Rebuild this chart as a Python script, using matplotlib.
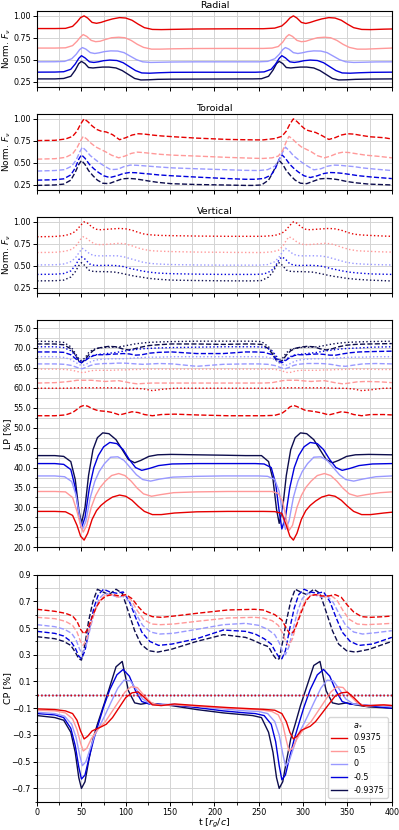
import numpy as np
import matplotlib.pyplot as plt
from matplotlib.ticker import MultipleLocator, FormatStrFormatter
from matplotlib.lines import Line2D

# spin values and their colours
spins = ["0.9375", "0.5", "0", "-0.5", "-0.9375"]
colors = ["#e60000", "#ff9999", "#9999ff", "#0000dd", "#0d0d4d"]

# ---- a = 0.9375 -------------------------------------------------------
t_a09 = [0, 20, 32, 40, 45, 49, 53, 57, 62, 67, 72, 78, 85, 93, 100, 107, 114, 121, 130, 140, 155, 180, 215, 245,
         255, 268, 276, 281, 285, 289, 293, 298, 303, 308, 314, 321, 329, 336, 343, 350, 357, 366, 376, 391, 400]
fr_a09 = [0.855, 0.855, 0.857, 0.88, 0.93, 0.98, 1.00, 0.975, 0.925, 0.915, 0.925, 0.945, 0.965, 0.98, 0.975, 0.95, 0.905, 0.865, 0.845, 0.843, 0.846, 0.85, 0.852, 0.853,
          0.853, 0.86, 0.885, 0.93, 0.975, 1.00, 0.975, 0.925, 0.913, 0.925, 0.945, 0.965, 0.98, 0.975, 0.95, 0.905, 0.865, 0.845, 0.843, 0.848, 0.85]
ft_a09 = [0.752, 0.755, 0.77, 0.8, 0.86, 0.94, 1.00, 0.97, 0.92, 0.88, 0.86, 0.85, 0.82, 0.762, 0.785, 0.815, 0.83, 0.826, 0.815, 0.805, 0.795, 0.78, 0.765, 0.76,
          0.76, 0.775, 0.8, 0.86, 0.94, 1.00, 0.97, 0.92, 0.875, 0.86, 0.845, 0.81, 0.765, 0.785, 0.815, 0.83, 0.826, 0.81, 0.795, 0.785, 0.77]
fv_a09 = [0.83, 0.833, 0.845, 0.87, 0.91, 0.96, 1.00, 0.985, 0.94, 0.915, 0.91, 0.915, 0.92, 0.925, 0.92, 0.905, 0.88, 0.86, 0.85, 0.845, 0.842, 0.838, 0.835, 0.835,
          0.835, 0.845, 0.87, 0.91, 0.96, 1.00, 0.985, 0.94, 0.915, 0.91, 0.915, 0.92, 0.925, 0.92, 0.905, 0.88, 0.86, 0.85, 0.845, 0.838, 0.835]
lpr_a09 = [29.0, 29.0, 28.9, 28.0, 25.5, 22.8, 21.8, 23.5, 27.0, 29.2, 30.5, 31.6, 32.6, 33.1, 32.8, 31.8, 30.3, 29.0, 28.2, 28.2, 28.6, 28.9, 29.0, 29.0,
           29.0, 28.95, 28.5, 25.5, 22.8, 21.8, 23.5, 27.0, 29.2, 30.5, 31.6, 32.6, 33.1, 32.8, 31.8, 30.3, 29.0, 28.2, 28.2, 28.6, 28.8]
lpt_a09 = [53.0, 53.0, 53.2, 53.8, 54.6, 55.3, 55.6, 55.4, 54.8, 54.4, 54.2, 54.1, 53.8, 53.2, 53.6, 54.0, 53.8, 53.3, 53.0, 53.3, 53.4, 53.2, 53.0, 53.0,
           53.0, 53.1, 53.6, 54.4, 55.2, 55.6, 55.3, 54.8, 54.3, 54.2, 54.0, 53.7, 53.2, 53.6, 54.0, 53.8, 53.3, 53.0, 53.3, 53.3, 53.2]
lpv_a09 = [59.9, 59.9, 59.9, 59.95, 60.0, 60.0, 60.0, 60.0, 60.0, 60.0, 60.0, 60.0, 60.0, 59.95, 59.9, 59.9, 59.85, 59.7, 59.3, 59.6, 59.9, 59.9, 59.9, 59.9,
           59.9, 59.9, 59.95, 60.0, 60.0, 60.0, 60.0, 60.0, 60.0, 60.0, 60.0, 60.0, 59.95, 59.9, 59.9, 59.85, 59.7, 59.3, 59.5, 59.9, 59.9]
cpr_a09 = [-0.105, -0.11, -0.12, -0.14, -0.19, -0.27, -0.33, -0.31, -0.27, -0.255, -0.24, -0.22, -0.17, -0.09, -0.02, 0.015, 0.022, -0.02, -0.075, -0.08, -0.068, -0.08, -0.095, -0.105,
           -0.108, -0.115, -0.14, -0.2, -0.28, -0.33, -0.31, -0.265, -0.25, -0.235, -0.2, -0.14, -0.07, -0.01, 0.015, 0.02, -0.02, -0.08, -0.08, -0.075, -0.08]
cpt_a09 = [0.64, 0.625, 0.61, 0.59, 0.55, 0.49, 0.455, 0.49, 0.58, 0.66, 0.71, 0.74, 0.75, 0.74, 0.75, 0.72, 0.66, 0.61, 0.585, 0.58, 0.59, 0.61, 0.635, 0.64,
           0.635, 0.6, 0.56, 0.5, 0.455, 0.47, 0.53, 0.62, 0.7, 0.74, 0.75, 0.74, 0.74, 0.75, 0.73, 0.67, 0.62, 0.585, 0.58, 0.585, 0.59]

# ---- a = 0.5 ----------------------------------------------------------
t_a05 = [0, 20, 32, 40, 45, 49, 52, 56, 61, 66, 71, 77, 84, 92, 99, 106, 113, 120, 129, 139, 154, 180, 215, 245,
         255, 265, 272, 277, 281, 284, 288, 293, 298, 303, 309, 316, 324, 331, 338, 345, 352, 361, 371, 387, 400]
fr_a05 = [0.632, 0.632, 0.635, 0.66, 0.71, 0.76, 0.786, 0.765, 0.72, 0.705, 0.71, 0.73, 0.75, 0.756, 0.75, 0.72, 0.675, 0.64, 0.62, 0.62, 0.624, 0.627, 0.628, 0.628,
          0.628, 0.632, 0.65, 0.7, 0.76, 0.786, 0.765, 0.72, 0.705, 0.71, 0.73, 0.75, 0.756, 0.75, 0.72, 0.675, 0.64, 0.62, 0.62, 0.627, 0.632]
ft_a05 = [0.54, 0.545, 0.56, 0.6, 0.67, 0.75, 0.80, 0.77, 0.72, 0.68, 0.655, 0.625, 0.585, 0.555, 0.575, 0.605, 0.62, 0.615, 0.605, 0.595, 0.585, 0.575, 0.56, 0.55,
          0.548, 0.555, 0.575, 0.64, 0.74, 0.80, 0.77, 0.72, 0.68, 0.655, 0.625, 0.58, 0.555, 0.575, 0.605, 0.62, 0.615, 0.6, 0.585, 0.57, 0.555]
fv_a05 = [0.65, 0.652, 0.665, 0.69, 0.74, 0.8, 0.83, 0.81, 0.77, 0.745, 0.74, 0.742, 0.748, 0.755, 0.75, 0.73, 0.705, 0.685, 0.67, 0.665, 0.66, 0.655, 0.652, 0.65,
          0.65, 0.658, 0.675, 0.72, 0.79, 0.83, 0.81, 0.77, 0.745, 0.74, 0.742, 0.748, 0.755, 0.75, 0.73, 0.705, 0.685, 0.67, 0.665, 0.658, 0.655]
lpr_a05 = [34.0, 34.0, 33.9, 32.5, 29.0, 25.5, 23.8, 25.5, 30.0, 33.0, 35.0, 36.6, 38.0, 38.5, 38.0, 36.6, 34.8, 33.4, 32.8, 33.2, 33.7, 33.9, 34.0, 34.0,
           34.0, 34.0, 33.5, 31.5, 27.0, 24.2, 25.5, 30.0, 33.0, 35.0, 36.6, 38.0, 38.5, 38.0, 36.6, 34.8, 33.4, 32.8, 33.2, 33.7, 33.9]
lpt_a05 = [61.2, 61.3, 61.5, 61.7, 61.9, 61.9, 61.9, 61.9, 61.9, 61.8, 61.7, 61.6, 61.7, 61.8, 61.5, 61.2, 61.0, 61.1, 61.2, 61.2, 61.2, 61.2, 61.2, 61.2,
           61.2, 61.3, 61.6, 61.8, 61.9, 61.9, 61.9, 61.9, 61.8, 61.7, 61.6, 61.7, 61.8, 61.5, 61.2, 61.0, 61.2, 61.5, 61.6, 61.5, 61.3]
lpv_a05 = [64.7, 64.7, 64.6, 64.4, 64.1, 63.9, 63.8, 64.0, 64.3, 64.4, 64.4, 64.4, 64.4, 64.5, 64.5, 64.6, 64.6, 64.7, 64.7, 64.7, 64.7, 64.7, 64.7, 64.7,
           64.7, 64.7, 64.5, 64.2, 63.9, 63.8, 64.0, 64.3, 64.4, 64.4, 64.4, 64.4, 64.5, 64.5, 64.6, 64.6, 64.7, 64.7, 64.7, 64.6, 64.6]
cpr_a05 = [-0.115, -0.12, -0.135, -0.18, -0.26, -0.36, -0.42, -0.40, -0.33, -0.28, -0.24, -0.2, -0.13, -0.05, 0.02, 0.06, 0.055, 0.0, -0.06, -0.08, -0.075, -0.085, -0.1, -0.11,
           -0.115, -0.125, -0.15, -0.22, -0.34, -0.42, -0.40, -0.33, -0.28, -0.24, -0.2, -0.13, -0.05, 0.02, 0.06, 0.055, 0.0, -0.06, -0.085, -0.075, -0.08]
cpt_a05 = [0.58, 0.57, 0.55, 0.52, 0.47, 0.40, 0.37, 0.42, 0.54, 0.64, 0.71, 0.745, 0.75, 0.73, 0.745, 0.71, 0.63, 0.565, 0.53, 0.525, 0.53, 0.55, 0.575, 0.58,
           0.575, 0.555, 0.52, 0.46, 0.39, 0.37, 0.42, 0.54, 0.64, 0.71, 0.745, 0.75, 0.73, 0.745, 0.71, 0.63, 0.565, 0.53, 0.525, 0.53, 0.535]

# ---- a = 0 ------------------------------------------------------------
t_a0 = [0, 20, 31, 39, 44, 48, 51, 55, 60, 65, 70, 76, 83, 91, 98, 105, 112, 119, 128, 138, 153, 180, 210, 235,
        250, 260, 268, 273, 277, 280, 284, 289, 294, 299, 305, 312, 320, 327, 334, 341, 348, 357, 367, 382, 400]
fr_a0 = [0.475, 0.476, 0.48, 0.51, 0.56, 0.615, 0.638, 0.62, 0.58, 0.57, 0.578, 0.592, 0.60, 0.598, 0.58, 0.54, 0.5, 0.475, 0.468, 0.47, 0.473, 0.475, 0.475, 0.475,
         0.475, 0.48, 0.51, 0.56, 0.615, 0.638, 0.62, 0.58, 0.57, 0.578, 0.592, 0.60, 0.598, 0.58, 0.54, 0.5, 0.475, 0.468, 0.47, 0.474, 0.475]
ft_a0 = [0.404, 0.41, 0.42, 0.46, 0.53, 0.62, 0.677, 0.64, 0.58, 0.54, 0.5, 0.46, 0.42, 0.425, 0.455, 0.472, 0.47, 0.465, 0.458, 0.45, 0.44, 0.43, 0.42, 0.412,
         0.41, 0.42, 0.46, 0.53, 0.62, 0.677, 0.64, 0.58, 0.54, 0.5, 0.46, 0.418, 0.43, 0.458, 0.472, 0.47, 0.463, 0.455, 0.44, 0.425, 0.41]
fv_a0 = [0.508, 0.51, 0.52, 0.55, 0.6, 0.66, 0.697, 0.67, 0.63, 0.615, 0.612, 0.612, 0.613, 0.612, 0.6, 0.58, 0.56, 0.54, 0.525, 0.518, 0.512, 0.508, 0.506, 0.506,
         0.506, 0.512, 0.545, 0.6, 0.66, 0.697, 0.67, 0.63, 0.615, 0.612, 0.612, 0.613, 0.61, 0.6, 0.58, 0.56, 0.54, 0.525, 0.518, 0.512, 0.508]
lpr_a0 = [37.9, 37.9, 37.7, 36.5, 33.0, 27.5, 24.4, 26.5, 32.5, 36.5, 39.0, 41.0, 42.6, 42.7, 41.8, 40.0, 38.2, 37.0, 36.6, 37.1, 37.6, 37.8, 37.9, 37.9,
          37.9, 37.8, 37.0, 34.0, 28.0, 24.5, 26.5, 32.5, 36.5, 39.0, 41.0, 42.6, 42.7, 41.8, 40.0, 38.2, 37.0, 36.6, 37.1, 37.7, 37.9]
lpt_a0 = [66.0, 66.0, 65.9, 65.6, 65.2, 64.9, 64.8, 65.1, 65.6, 65.9, 66.0, 66.1, 66.1, 66.2, 66.2, 66.1, 66.0, 65.9, 66.0, 66.1, 66.0, 65.4, 65.9, 66.0,
          66.0, 65.9, 65.6, 65.2, 64.9, 64.8, 65.1, 65.6, 65.9, 66.0, 66.1, 66.1, 66.1, 66.0, 65.8, 65.5, 65.4, 65.7, 66.0, 66.1, 66.0]
lpv_a0 = [67.8, 67.8, 67.6, 67.0, 66.3, 65.8, 65.6, 65.9, 66.5, 66.9, 67.1, 67.2, 67.3, 67.3, 67.3, 67.4, 67.5, 67.6, 67.7, 67.7, 67.8, 67.8, 67.8, 67.8,
          67.8, 67.7, 67.1, 66.3, 65.8, 65.6, 65.9, 66.5, 66.9, 67.1, 67.2, 67.3, 67.3, 67.3, 67.4, 67.5, 67.6, 67.7, 67.7, 67.8, 67.8]
cpr_a0 = [-0.13, -0.14, -0.16, -0.22, -0.32, -0.45, -0.53, -0.5, -0.4, -0.3, -0.24, -0.16, -0.06, 0.05, 0.11, 0.105, 0.04, -0.03, -0.07, -0.075, -0.07, -0.085, -0.105, -0.12,
          -0.125, -0.14, -0.2, -0.3, -0.44, -0.53, -0.5, -0.4, -0.3, -0.24, -0.16, -0.06, 0.05, 0.11, 0.105, 0.04, -0.03, -0.07, -0.075, -0.08, -0.09]
cpt_a0 = [0.525, 0.51, 0.49, 0.46, 0.41, 0.34, 0.31, 0.36, 0.5, 0.63, 0.72, 0.76, 0.75, 0.73, 0.74, 0.69, 0.6, 0.52, 0.47, 0.455, 0.46, 0.49, 0.525, 0.535,
          0.52, 0.49, 0.45, 0.39, 0.32, 0.30, 0.36, 0.5, 0.63, 0.72, 0.76, 0.75, 0.73, 0.74, 0.69, 0.6, 0.52, 0.47, 0.455, 0.465, 0.48]

# ---- a = -0.5 ---------------------------------------------------------
t_am05 = [0, 20, 30, 38, 43, 47, 50, 54, 59, 64, 69, 75, 82, 90, 97, 104, 111, 118, 127, 137, 152, 180, 210, 235,
          246, 256, 264, 269, 273, 276, 280, 285, 290, 295, 301, 308, 316, 323, 330, 337, 344, 353, 363, 378, 400]
fr_am05 = [0.357, 0.358, 0.362, 0.39, 0.45, 0.515, 0.545, 0.52, 0.475, 0.468, 0.475, 0.488, 0.495, 0.49, 0.465, 0.42, 0.375, 0.348, 0.345, 0.35, 0.355, 0.356, 0.356, 0.356,
           0.356, 0.36, 0.39, 0.45, 0.515, 0.545, 0.52, 0.475, 0.468, 0.475, 0.488, 0.495, 0.49, 0.465, 0.42, 0.375, 0.348, 0.345, 0.35, 0.355, 0.357]
ft_am05 = [0.30, 0.305, 0.315, 0.36, 0.44, 0.54, 0.59, 0.55, 0.48, 0.43, 0.39, 0.35, 0.33, 0.35, 0.375, 0.387, 0.385, 0.378, 0.37, 0.36, 0.35, 0.335, 0.32, 0.31,
           0.31, 0.32, 0.36, 0.44, 0.54, 0.59, 0.55, 0.48, 0.43, 0.39, 0.35, 0.33, 0.35, 0.375, 0.387, 0.385, 0.378, 0.365, 0.35, 0.335, 0.318]
fv_am05 = [0.40, 0.402, 0.41, 0.44, 0.5, 0.57, 0.60, 0.575, 0.52, 0.505, 0.502, 0.503, 0.504, 0.5, 0.49, 0.47, 0.455, 0.44, 0.425, 0.415, 0.408, 0.403, 0.4, 0.4,
           0.4, 0.405, 0.44, 0.5, 0.57, 0.60, 0.575, 0.52, 0.505, 0.502, 0.503, 0.504, 0.5, 0.49, 0.47, 0.455, 0.44, 0.425, 0.415, 0.405, 0.40]
lpr_am05 = [41.0, 41.0, 40.8, 39.5, 35.0, 28.5, 24.8, 27.5, 35.0, 40.0, 43.0, 45.2, 46.3, 46.0, 44.5, 42.0, 40.0, 39.3, 39.8, 40.5, 40.9, 41.0, 41.0, 41.0,
            41.0, 40.9, 40.0, 36.0, 29.0, 24.6, 27.5, 35.0, 40.0, 43.0, 45.2, 46.3, 46.0, 44.5, 42.0, 40.0, 39.3, 39.8, 40.5, 40.9, 41.0]
lpt_am05 = [69.0, 69.0, 68.9, 68.3, 67.4, 66.6, 66.3, 66.8, 67.6, 68.1, 68.3, 68.3, 68.4, 68.5, 68.6, 68.5, 68.2, 68.3, 68.7, 68.9, 69.0, 68.6, 68.6, 69.0,
            69.0, 68.9, 68.4, 67.4, 66.6, 66.3, 66.8, 67.6, 68.1, 68.3, 68.3, 68.4, 68.5, 68.4, 68.2, 68.2, 68.5, 68.8, 69.0, 69.1, 69.2]
lpv_am05 = [70.3, 70.3, 70.1, 69.3, 68.2, 67.0, 66.5, 67.0, 67.8, 68.2, 68.4, 68.5, 68.7, 68.9, 69.2, 69.4, 69.6, 69.8, 69.9, 70.0, 70.1, 70.2, 70.3, 70.3,
            70.3, 70.2, 69.5, 68.2, 67.0, 66.5, 67.0, 67.8, 68.2, 68.4, 68.5, 68.7, 68.9, 69.2, 69.4, 69.6, 69.8, 69.9, 70.0, 70.2, 70.3]
cpr_am05 = [-0.14, -0.15, -0.17, -0.25, -0.38, -0.54, -0.63, -0.6, -0.46, -0.33, -0.22, -0.09, 0.04, 0.15, 0.19, 0.14, 0.03, -0.05, -0.07, -0.07, -0.075, -0.095, -0.12, -0.135,
            -0.14, -0.155, -0.22, -0.35, -0.53, -0.635, -0.6, -0.46, -0.33, -0.22, -0.09, 0.04, 0.15, 0.19, 0.14, 0.03, -0.05, -0.07, -0.07, -0.085, -0.1]
cpt_am05 = [0.475, 0.46, 0.44, 0.40, 0.35, 0.29, 0.27, 0.33, 0.5, 0.65, 0.75, 0.79, 0.77, 0.76, 0.77, 0.7, 0.58, 0.47, 0.4, 0.37, 0.38, 0.42, 0.485, 0.475,
            0.455, 0.42, 0.38, 0.32, 0.28, 0.27, 0.33, 0.5, 0.65, 0.75, 0.79, 0.77, 0.76, 0.77, 0.7, 0.58, 0.47, 0.4, 0.37, 0.38, 0.43]

# ---- a = -0.9375 ------------------------------------------------------
t_am09 = [0, 20, 30, 38, 43, 47, 50, 54, 58, 63, 68, 74, 81, 89, 96, 103, 110, 117, 126, 136, 151, 180, 210, 235,
          243, 253, 261, 266, 270, 273, 277, 281, 286, 291, 297, 304, 312, 319, 326, 333, 340, 349, 359, 374, 400]
fr_am09 = [0.28, 0.28, 0.285, 0.31, 0.38, 0.455, 0.48, 0.455, 0.41, 0.405, 0.41, 0.415, 0.415, 0.405, 0.375, 0.33, 0.285, 0.268, 0.27, 0.275, 0.277, 0.278, 0.279, 0.28,
           0.28, 0.282, 0.31, 0.38, 0.455, 0.48, 0.455, 0.41, 0.405, 0.41, 0.415, 0.415, 0.405, 0.375, 0.33, 0.285, 0.268, 0.27, 0.275, 0.278, 0.28]
ft_am09 = [0.24, 0.245, 0.255, 0.3, 0.39, 0.48, 0.525, 0.48, 0.41, 0.35, 0.3, 0.265, 0.26, 0.29, 0.315, 0.32, 0.315, 0.305, 0.29, 0.275, 0.26, 0.25, 0.245, 0.24,
           0.24, 0.245, 0.3, 0.39, 0.48, 0.525, 0.48, 0.41, 0.35, 0.3, 0.265, 0.26, 0.29, 0.315, 0.32, 0.315, 0.305, 0.285, 0.27, 0.255, 0.245]
fv_am09 = [0.326, 0.328, 0.335, 0.37, 0.43, 0.5, 0.534, 0.5, 0.45, 0.435, 0.432, 0.432, 0.43, 0.425, 0.41, 0.395, 0.38, 0.37, 0.355, 0.345, 0.335, 0.33, 0.327, 0.326,
           0.326, 0.33, 0.37, 0.43, 0.5, 0.534, 0.5, 0.45, 0.435, 0.432, 0.432, 0.43, 0.425, 0.41, 0.395, 0.38, 0.37, 0.355, 0.345, 0.335, 0.325]
lpr_am09 = [43.0, 43.0, 42.8, 41.5, 37.0, 29.5, 26.0, 30.0, 38.0, 44.5, 47.5, 48.7, 48.5, 47.0, 44.5, 42.0, 41.2, 41.8, 42.8, 43.2, 43.3, 43.2, 43.1, 43.0,
            43.0, 43.0, 41.5, 37.0, 29.5, 26.0, 30.0, 38.0, 44.5, 47.5, 48.7, 48.5, 47.0, 44.5, 42.0, 41.2, 41.8, 42.8, 43.2, 43.3, 43.2]
lpt_am09 = [71.0, 71.0, 70.8, 69.8, 68.3, 66.8, 66.3, 67.0, 68.2, 69.3, 69.9, 70.2, 70.4, 70.3, 69.8, 69.5, 69.8, 70.2, 70.6, 70.8, 71.0, 71.0, 70.9, 71.0,
            71.0, 70.9, 69.8, 68.3, 66.8, 66.3, 67.0, 68.2, 69.3, 69.9, 70.2, 70.4, 70.3, 69.8, 69.5, 69.8, 70.3, 70.7, 70.9, 71.0, 71.1]
lpv_am09 = [71.7, 71.6, 71.4, 70.3, 68.7, 67.3, 66.8, 67.5, 68.8, 69.6, 69.9, 70.1, 70.2, 70.2, 70.4, 70.7, 71.0, 71.2, 71.4, 71.5, 71.6, 71.7, 71.7, 71.7,
            71.7, 71.6, 70.3, 68.7, 67.3, 66.8, 67.5, 68.8, 69.6, 69.9, 70.1, 70.2, 70.2, 70.4, 70.7, 71.0, 71.2, 71.4, 71.5, 71.6, 71.7]
cpr_am09 = [-0.155, -0.17, -0.19, -0.28, -0.43, -0.62, -0.70, -0.65, -0.5, -0.33, -0.22, -0.1, 0.04, 0.21, 0.25, 0.03, -0.06, -0.07, -0.06, -0.07, -0.08, -0.11, -0.135, -0.15,
            -0.155, -0.17, -0.28, -0.43, -0.62, -0.70, -0.65, -0.5, -0.33, -0.22, -0.08, 0.06, 0.22, 0.25, 0.03, -0.06, -0.07, -0.06, -0.075, -0.09, -0.1]
cpt_am09 = [0.435, 0.42, 0.4, 0.37, 0.32, 0.27, 0.26, 0.38, 0.55, 0.7, 0.79, 0.77, 0.75, 0.79, 0.76, 0.62, 0.48, 0.38, 0.33, 0.32, 0.34, 0.4, 0.45, 0.43,
            0.41, 0.38, 0.36, 0.3, 0.265, 0.27, 0.4, 0.55, 0.7, 0.79, 0.77, 0.75, 0.79, 0.76, 0.62, 0.48, 0.38, 0.33, 0.32, 0.34, 0.40]

# vertical field: circular polarisation is zero for every spin
t_cpv = [0, 400]
cpv = [0.0, 0.0]

times = [t_a09, t_a05, t_a0, t_am05, t_am09]
flux_rad = [fr_a09, fr_a05, fr_a0, fr_am05, fr_am09]
flux_tor = [ft_a09, ft_a05, ft_a0, ft_am05, ft_am09]
flux_ver = [fv_a09, fv_a05, fv_a0, fv_am05, fv_am09]
lp_rad = [lpr_a09, lpr_a05, lpr_a0, lpr_am05, lpr_am09]
lp_tor = [lpt_a09, lpt_a05, lpt_a0, lpt_am05, lpt_am09]
lp_ver = [lpv_a09, lpv_a05, lpv_a0, lpv_am05, lpv_am09]
cp_rad = [cpr_a09, cpr_a05, cpr_a0, cpr_am05, cpr_am09]
cp_tor = [cpt_a09, cpt_a05, cpt_a0, cpt_am05, cpt_am09]

TICK = 5.8
LAB = 6.8
LW = 1.0
plt.rcParams["font.family"] = "DejaVu Sans"

fig = plt.figure(figsize=(3.99, 8.30), dpi=100)
gs = fig.add_gridspec(5, 1, height_ratios=[1, 1, 1, 3, 3], left=0.093, right=0.982,
                      top=0.9867, bottom=0.034, hspace=0.2)
axes = [fig.add_subplot(gs[i]) for i in range(5)]

order = range(4, -1, -1)   # draw the red curve last so it sits on top

# flux panels
for ax, data, ls, title in zip(axes[:3], [flux_rad, flux_tor, flux_ver],
                               ["-", "--", ":"], ["Radial", "Toroidal", "Vertical"]):
    for i in order:
        ax.plot(times[i], data[i], ls=ls, color=colors[i], lw=LW)
    ax.set_title(title, fontsize=LAB, pad=2.5)
    ax.set_ylim(0.19, 1.055)
    ax.set_yticks([0.25, 0.5, 0.75, 1.0])
    ax.yaxis.set_major_formatter(FormatStrFormatter("%.2f"))
    ax.set_ylabel(r"Norm. $F_\nu$", fontsize=6.4)
    ax.yaxis.set_label_coords(-0.069, 0.5)

# linear polarisation
ax = axes[3]
for i in order:
    ax.plot(times[i], lp_rad[i], "-", color=colors[i], lw=LW)
    ax.plot(times[i], lp_tor[i], "--", color=colors[i], lw=LW)
    ax.plot(times[i], lp_ver[i], ":", color=colors[i], lw=LW)
ax.set_ylim(20, 77)
ax.yaxis.set_major_locator(MultipleLocator(5))
ax.yaxis.set_minor_locator(MultipleLocator(2.5))
ax.yaxis.set_major_formatter(FormatStrFormatter("%.1f"))
ax.set_ylabel("LP [%]", fontsize=LAB)
ax.yaxis.set_label_coords(-0.071, 0.5)

# circular polarisation
ax = axes[4]
for i in order:
    ax.plot(times[i], cp_rad[i], "-", color=colors[i], lw=LW)
    ax.plot(times[i], cp_tor[i], "--", color=colors[i], lw=LW)
    ax.plot(t_cpv, cpv, ":", color=colors[i], lw=LW)
ax.set_ylim(-0.8, 0.9)
ax.set_yticks([-0.7, -0.5, -0.3, -0.1, 0.1, 0.3, 0.5, 0.7, 0.9])
ax.set_yticks([-0.8, -0.6, -0.4, -0.2, 0.0, 0.2, 0.4, 0.6, 0.8], minor=True)
ax.set_ylabel("CP [%]", fontsize=LAB)
ax.yaxis.set_label_coords(-0.071, 0.5)
ax.set_xlabel(r"t [$r_g/c$]", fontsize=LAB, labelpad=0)

handles = [Line2D([], [], color=c, lw=LW) for c in colors]
ax.legend(handles, spins, title=r"$a_*$", loc="lower right",
          fontsize=TICK, title_fontsize=TICK)

for k, ax in enumerate(axes):
    ax.set_xlim(0, 400)
    ax.xaxis.set_major_locator(MultipleLocator(50))
    ax.xaxis.set_minor_locator(MultipleLocator(25))
    ax.grid(which="both", color="#d4d4d4", lw=0.7)
    ax.tick_params(labelsize=TICK, length=2.6, width=0.7, pad=1.8)
    ax.tick_params(which="minor", length=1.8, width=0.6)
    if k < 4:
        ax.tick_params(labelbottom=False)

fig.savefig("out.png", dpi=100)
